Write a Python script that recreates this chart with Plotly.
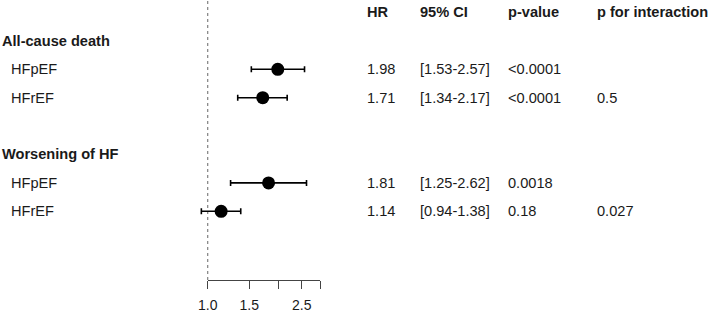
import plotly.graph_objects as go
import math

# ---------------- data ----------------
row_labels = ["All-cause death", "HFpEF", "HFrEF", "", "Worsening of HF", "HFpEF", "HFrEF"]
row_is_header = [True, False, False, False, True, False, False]
hr = [None, 1.98, 1.71, None, None, 1.81, 1.14]
ci_low = [None, 1.53, 1.34, None, None, 1.25, 0.94]
ci_high = [None, 2.57, 2.17, None, None, 2.62, 1.38]
hr_text = ["", "1.98", "1.71", "", "", "1.81", "1.14"]
ci_text = ["", "[1.53-2.57]", "[1.34-2.17]", "", "", "[1.25-2.62]", "[0.94-1.38]"]
p_text = ["", "<0.0001", "<0.0001", "", "", "0.0018", "0.18"]
pint_text = ["", "", "0.5", "", "", "", "0.027"]
col_headers = ["HR", "95% CI", "p-value", "p for interaction"]
tick_vals = [1.0, 1.5, 2.0, 2.5, 3.0]
tick_labels = ["1.0", "1.5", "", "2.5", ""]
null_value = 1.0

# ---------------- layout constants ----------------
W, H = 709, 313
BOTTOM = 33
FONT = "Liberation Sans, Arial, sans-serif"
FS = 14.6
TXT = "#1a1a1a"
x_null_px = 207.7
x_max_px = 320.4
px_per_dec = (x_max_px - x_null_px) / math.log10(tick_vals[-1])
x_range = [-x_null_px / px_per_dec, (W - x_null_px) / px_per_dec]

row_y = list(range(1, len(row_labels) + 1))
header_y = 0
y_top = -0.44
y_bot = 9.42

fig = go.Figure()

xs, ys, em, ep = [], [], [], []
for i in range(len(row_labels)):
    if hr[i] is not None:
        xs.append(hr[i]); ys.append(row_y[i])
        em.append(hr[i] - ci_low[i]); ep.append(ci_high[i] - hr[i])

fig.add_trace(go.Scatter(
    x=xs, y=ys, mode="markers",
    marker=dict(size=13, color="black", symbol="circle"),
    error_x=dict(type="data", symmetric=False, array=ep, arrayminus=em,
                 color="black", thickness=1.6, width=3),
    cliponaxis=False, hoverinfo="skip", showlegend=False,
))

# invisible trace that carries the scale axis
fig.add_trace(go.Scatter(x=[tick_vals[0]], y=[None], xaxis="x2", yaxis="y",
                         mode="markers", showlegend=False, hoverinfo="skip"))

fig.add_shape(type="line", xref="x", yref="paper", x0=null_value, x1=null_value,
              y0=0, y1=1, line=dict(color="#808080", width=1.2, dash="dot"), layer="below")

ann = []
def add_text(xpx, y, text, bold=False):
    if not text:
        return
    ann.append(dict(xref="paper", yref="y", x=xpx / W, y=y, text=f"<b>{text}</b>" if bold else text,
                    showarrow=False, xanchor="left", yanchor="middle",
                    font=dict(family=FONT, size=FS, color=TXT)))

col_x = [365, 418, 506, 595]
for cx, h in zip(col_x, col_headers):
    add_text(cx, header_y, h, bold=True)

for i, lab in enumerate(row_labels):
    if row_is_header[i]:
        add_text(0, row_y[i], lab, bold=True)
    else:
        add_text(8.5, row_y[i], lab)
    add_text(col_x[0], row_y[i], hr_text[i])
    add_text(col_x[1], row_y[i], ci_text[i])
    add_text(col_x[2], row_y[i], p_text[i])
    add_text(col_x[3], row_y[i], pint_text[i])

fig.update_layout(
    width=W, height=H,
    margin=dict(l=0, r=0, t=0, b=BOTTOM, pad=0, autoexpand=False),
    plot_bgcolor="rgba(0,0,0,0)", paper_bgcolor="white",
    annotations=ann,
    xaxis=dict(type="log", range=x_range, domain=[0, 1], visible=False,
               fixedrange=True, automargin=False),
    xaxis2=dict(type="log", range=[0, math.log10(tick_vals[-1])],
                domain=[x_null_px / W, x_max_px / W], anchor="y", automargin=False,
                showline=True, linecolor="#444444", linewidth=1,
                ticks="outside", ticklen=8, tickcolor="#444444", tickwidth=1,
                ticklabelstandoff=4, fixedrange=True,
                tickvals=tick_vals, ticktext=tick_labels, showgrid=False, zeroline=False,
                tickfont=dict(family=FONT, size=14, color=TXT)),
    yaxis=dict(range=[y_bot, y_top], domain=[0, 1], visible=False,
               fixedrange=True, automargin=False),
)

fig.write_html("out.html", config={"displayModeBar": False, "staticPlot": True},
               post_script="document.body.style.margin='0';")
